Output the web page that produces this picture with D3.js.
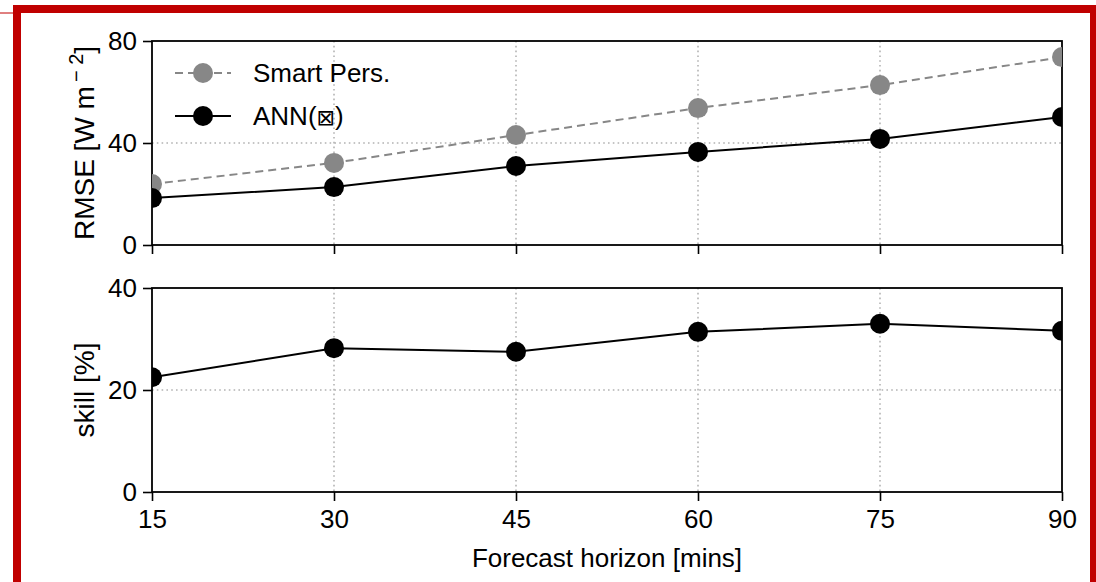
<!DOCTYPE html>
<html>
<head>
<meta charset="utf-8">
<script src="https://cdn.jsdelivr.net/npm/d3@7"></script>
<style>
  html, body { margin: 0; padding: 0; background: #fff; }
  svg { display: block; }
  text { font-family: "Liberation Sans", Arial, Helvetica, sans-serif; fill: #000; }
</style>
</head>
<body>
<svg id="chart" width="1096" height="582"></svg>
<script>
// Forecast horizons (minutes)
const horizons = [15, 30, 45, 60, 75, 90];
// RMSE in W m^-2
const smartPers = [23.9, 32.2, 43.1, 53.7, 62.7, 73.7];
const ann = [18.4, 22.7, 31.0, 36.5, 41.6, 50.2];
// Forecast skill in %
const skill = [22.5, 28.2, 27.5, 31.4, 33.0, 31.6];

const rmseTicks = [0, 40, 80];
const skillTicks = [0, 20, 40];

const svg = d3.select("#chart");

// Red frame around the figure
svg.append("rect")
  .attr("x", 17).attr("y", 9)
  .attr("width", 1077).attr("height", 600)
  .attr("fill", "none").attr("stroke", "#c00000").attr("stroke-width", 8);
svg.append("line")
  .attr("x1", 0).attr("x2", 14).attr("y1", 13).attr("y2", 13)
  .attr("stroke", "#c00000").attr("stroke-width", 1);

const left = 152, right = 1062;
const x = d3.scaleLinear().domain([15, 90]).range([left, right]);
const yTop = d3.scaleLinear().domain([0, 80]).range([245, 41]);
const yBot = d3.scaleLinear().domain([0, 40]).range([492, 288]);

const FS = 26;      // tick labels, legend, x label
const FSY = 28;     // y labels
const gridStyle = sel => sel.attr("stroke", "#b3b3b3").attr("stroke-width", 1.6)
  .attr("stroke-dasharray", "1.6,3.2");

function panel(y, yTicks, showXLabels) {
  const g = svg.append("g");
  // grid
  g.selectAll("line.gx").data(horizons.slice(1, -1)).join("line")
    .attr("x1", d => x(d)).attr("x2", d => x(d))
    .attr("y1", y.range()[1]).attr("y2", y.range()[0])
    .call(gridStyle);
  g.selectAll("line.gy").data(yTicks.slice(1, -1)).join("line")
    .attr("x1", left).attr("x2", right)
    .attr("y1", d => y(d)).attr("y2", d => y(d))
    .call(gridStyle);

  // axes
  const xa = g.append("g").attr("transform", `translate(0,${y.range()[0]})`)
    .call(d3.axisBottom(x).tickValues(horizons).tickSize(9).tickPadding(9)
      .tickFormat(showXLabels ? d3.format("d") : () => ""));
  const ya = g.append("g").attr("transform", `translate(${left},0)`)
    .call(d3.axisLeft(y).tickValues(yTicks).tickSize(9).tickPadding(6));
  [xa, ya].forEach(a => {
    a.select(".domain").remove();
    a.selectAll(".tick line").attr("stroke", "#000").attr("stroke-width", 1.6);
    a.selectAll("text").style("font-size", FS + "px")
      .style("font-family", '"Liberation Sans", Arial, sans-serif').attr("fill", "#000");
  });

  // frame
  g.append("rect")
    .attr("x", left).attr("y", y.range()[1])
    .attr("width", right - left).attr("height", y.range()[0] - y.range()[1])
    .attr("fill", "none").attr("stroke", "#000").attr("stroke-width", 1.8);
  return g;
}

panel(yTop, rmseTicks, false);
panel(yBot, skillTicks, true);

function series(g, y, vals, color, dash) {
  const pts = horizons.map((h, i) => [h, vals[i]]);
  g.append("path").datum(pts)
    .attr("d", d3.line().x(d => x(d[0])).y(d => y(d[1])))
    .attr("fill", "none").attr("stroke", color).attr("stroke-width", 2)
    .attr("stroke-dasharray", dash || null);
  g.selectAll(null).data(pts).join("circle")
    .attr("cx", d => x(d[0])).attr("cy", d => y(d[1]))
    .attr("r", 10).attr("fill", color);
}

// clip markers to the panel areas
const defs = svg.append("defs");
defs.append("clipPath").attr("id", "clipTop").append("rect")
  .attr("x", left).attr("y", 41).attr("width", right - left).attr("height", 204);
defs.append("clipPath").attr("id", "clipBot").append("rect")
  .attr("x", left).attr("y", 288).attr("width", right - left).attr("height", 204);

const dTop = svg.append("g").attr("clip-path", "url(#clipTop)");
series(dTop, yTop, smartPers, "#878787", "8,5");
series(dTop, yTop, ann, "#000", null);
const dBot = svg.append("g").attr("clip-path", "url(#clipBot)");
series(dBot, yBot, skill, "#000", null);

// legend
const legend = [
  { label: "Smart Pers.", color: "#878787", dash: "8,5", y: 73 },
  { label: "ANN(", color: "#000", dash: null, y: 116, extra: true }
];
legend.forEach(l => {
  svg.append("line").attr("x1", 175).attr("x2", 231).attr("y1", l.y).attr("y2", l.y)
    .attr("stroke", l.color).attr("stroke-width", 2).attr("stroke-dasharray", l.dash);
  svg.append("circle").attr("cx", 203).attr("cy", l.y).attr("r", 10).attr("fill", l.color);
  const t = svg.append("text").attr("x", 253).attr("y", l.y + 9)
    .style("font-size", FS + "px").text(l.label);
  if (l.extra) {
    t.append("tspan").style("font-family", '"DejaVu Sans", sans-serif')
      .style("font-style", "italic").style("font-size", "22px").text("⊠");
    t.append("tspan").text(")");
  }
});

// axis titles
const yl1 = svg.append("text")
  .attr("transform", `translate(94,143) rotate(-90)`)
  .attr("text-anchor", "middle").style("font-size", FSY + "px");
yl1.append("tspan").text("RMSE [W m");
yl1.append("tspan").attr("dy", -11).attr("dx", 4).style("font-size", "20px").text("− 2");
yl1.append("tspan").attr("dy", 11).text("]");

svg.append("text")
  .attr("transform", `translate(94,390) rotate(-90)`)
  .attr("text-anchor", "middle").style("font-size", FSY + "px").text("skill [%]");

svg.append("text")
  .attr("x", (left + right) / 2).attr("y", 567)
  .attr("text-anchor", "middle").style("font-size", FS + "px").text("Forecast horizon [mins]");
</script>
</body>
</html>
